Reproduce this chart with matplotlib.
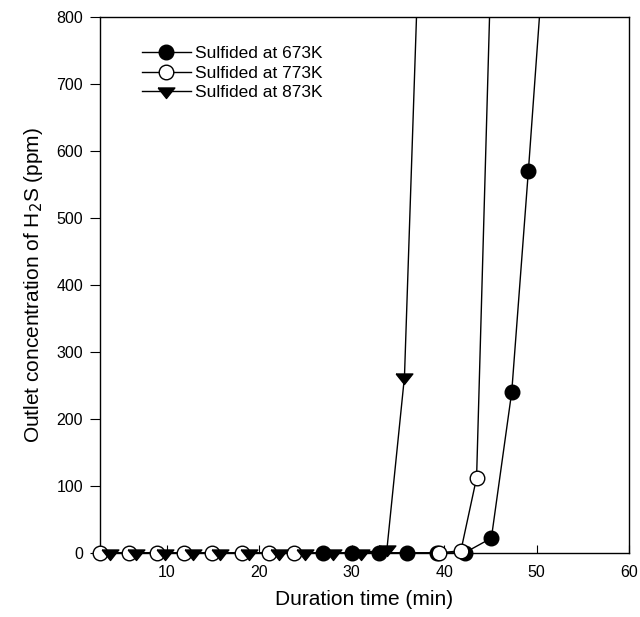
import numpy as np
import matplotlib.pyplot as plt

plt.rcParams['font.family'] = ['Liberation Sans', 'DejaVu Sans']

##------------------------------##
##   DATA  ##
##------------------------------##
# sulfided at 673K (filled circles), last point is above the axis top
t_673 = [26.9, 30.0, 32.9, 36.0, 39.2, 42.2, 45.1, 47.3, 49.1, 51.0]
c_673 = [0, 0, 0, 0, 0, 0, 22, 240, 570, 935]

# sulfided at 773K (open circles)
t_773 = [2.75, 5.9, 8.9, 11.9, 14.9, 18.1, 21.0, 23.7, 39.4, 41.8, 43.5, 45.5]
c_773 = [0, 0, 0, 0, 0, 0, 0, 0, 0, 3, 112, 1094]

# sulfided at 873K (down triangles)
t_873 = [3.9, 6.7, 9.8, 12.8, 15.8, 18.9, 22.1, 24.9, 28.0, 31.0, 33.8, 35.7, 38.0]
c_873 = [0, 0, 0, 0, 0, 0, 0, 0, 0, 0, 5, 263, 1213]

xticks = [10, 20, 30, 40, 50, 60]
yticks = [0, 100, 200, 300, 400, 500, 600, 700, 800]
labels = ['Sulfided at 673K', 'Sulfided at 773K', 'Sulfided at 873K']

##------------------------------##
##             PLOT             ##
##------------------------------##
fig = plt.figure(figsize=(6.4, 6.17), dpi=100)
ax = fig.add_axes([0.156, 0.104, 0.827, 0.868])
ax.set_xlim(2.75, 60)
ax.set_ylim(0, 800)

# wide flat down-triangle centred on its centroid (hangs a bit low)
tri = [(-1, 0.42), (1, 0.42), (0, -0.84), (-1, 0.42)]

series = [(t_673, c_673, 'o', 'black', 10.5, 3),
          (t_773, c_773, 'o', 'white', 10.5, 4),
          (t_873, c_873, tri, 'black', 12, 5)]

handles = []
for (t, c, mk, fc, ms, z), lab in zip(series, labels):
    t = np.array(t); c = np.array(c)
    ax.plot(t, c, '-', color='black', lw=1.0, zorder=2)
    inside = c <= 800
    ax.plot(t[inside], c[inside], ls='none', marker=mk, ms=ms, mfc=fc,
            mec='black', mew=1.0, zorder=z, clip_on=False)
    h, = ax.plot([], [], '-', color='black', lw=1.0, marker=mk, ms=ms,
                 mfc=fc, mec='black', mew=1.0)
    handles.append(h)

ax.set_xticks(xticks)
ax.set_yticks(yticks)
ax.tick_params(axis='x', direction='in', length=6, labelsize=11.5, pad=9)
ax.tick_params(axis='y', direction='out', length=7, labelsize=11.5, pad=5)

ax.set_xlabel('Duration time (min)', fontsize=15, labelpad=7)
ax.set_ylabel('Outlet concentration of H$_2$S (ppm)', fontsize=15, labelpad=8)

ax.legend(handles, labels, loc='upper left', bbox_to_anchor=(0.05, 0.975),
          frameon=False, fontsize=12.5, handlelength=2.8,
          labelspacing=0.25, handletextpad=0.25)

for sp in ax.spines.values():
    sp.set_linewidth(1.0)

fig.savefig('out.png', dpi=100)
